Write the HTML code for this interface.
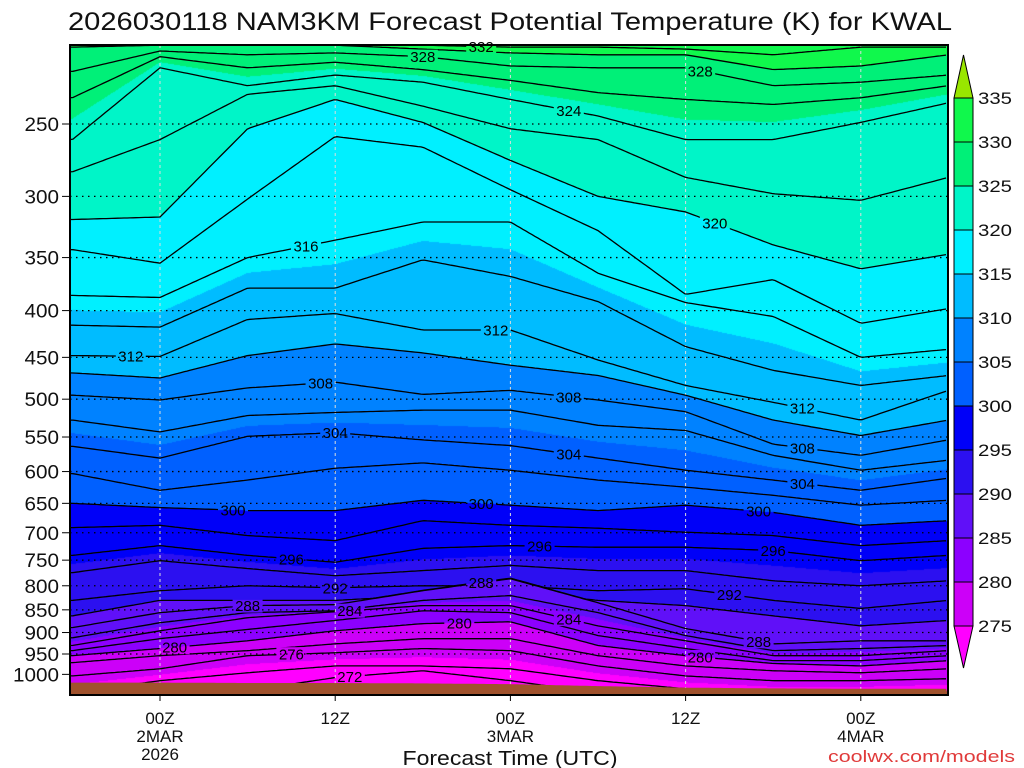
<!DOCTYPE html>
<html><head><meta charset="utf-8"><style>
html,body{margin:0;padding:0;background:#fff;}
#wrap{position:relative;width:1024px;height:768px;overflow:hidden;font-family:"Liberation Sans",sans-serif;}
canvas,svg{position:absolute;left:0;top:0;}
</style></head><body>
<div id="wrap">
<canvas id="fill" width="1024" height="768"></canvas>
<svg id="svg" width="1024" height="768" xmlns="http://www.w3.org/2000/svg">
<defs><clipPath id="plotclip"><rect x="70" y="45" width="878" height="650"/></clipPath>
<mask id="labelmask" maskUnits="userSpaceOnUse" x="0" y="0" width="1024" height="768"><rect x="0" y="0" width="1024" height="768" fill="#fff"/><g id="maskholes"></g></mask></defs>
<text x="510" y="30" text-anchor="middle" font-size="25" textLength="884" lengthAdjust="spacingAndGlyphs" fill="#111">2026030118 NAM3KM Forecast Potential Temperature (K) for KWAL</text>
<g id="grid"></g>
<g clip-path="url(#plotclip)"><g id="lines" mask="url(#labelmask)"></g></g>
<g id="ground"></g>
<g id="labels"></g>
<rect x="70" y="45" width="878" height="650" fill="none" stroke="#000" stroke-width="2"/>
<g id="yaxis"></g>
<g id="xaxis"></g>
<text x="510" y="765" text-anchor="middle" font-size="20" textLength="215" lengthAdjust="spacingAndGlyphs" fill="#111">Forecast Time (UTC)</text>
<text x="1015" y="762" text-anchor="end" font-size="17" textLength="187" lengthAdjust="spacingAndGlyphs" fill="#e03a3a">coolwx.com/models</text>
<g id="cbar"></g>
</svg>
</div>
<script>
const hours=[-6,0,6,12,18,24,30,36,42,48,54];
const levels=[272,274,276,278,280,282,284,286,288,290,292,294,296,298,300,302,304,306,308,310,312,314,316,318,320,322,324,326,328,330,332,334];
const theta272=[1083,1069,1042,1008,991,1016,1048,1069,1083,1083,1083];
const theta274=[1048,1016,996,979,979,986,1016,1037,1048,1048,1042];
const theta276=[1004,986,954,947,937,942,979,1004,1016,1016,1011];
const theta278=[971,954,942,926,914,914,954,979,991,996,986];
const theta280=[954,937,919,896,880,876,930,954,973,979,966];
const theta282=[942,914,893,873,852,856,907,937,966,966,954];
const theta284=[930,896,867,854,841,841,885,919,954,954,942];
const theta286=[912,878,856,852,830,820,856,907,942,937,930];
const theta288=[889,856,841,839,810,786,835,891,926,919,919];
const theta290=[863,830,830,830,820,810,830,841,863,885,873];
const theta292=[830,810,800,804,800,800,810,806,830,847,830];
const theta294=[774,751,766,780,770,760,770,770,790,800,790];
const theta296=[741,723,741,754,728,723,726,726,732,751,741];
const theta298=[691,687,705,714,679,687,692,699,705,723,714];
const theta300=[650,657,662,662,645,653,662,653,665,687,679];
const theta302=[603,629,613,595,587,598,613,624,637,653,645];
const theta304=[563,580,549,544,554,562,580,598,613,629,610];
const theta306=[527,543,521,517,514,514,534,541,576,598,583];
const theta308=[495,501,486,479,494,489,501,516,560,576,554];
const theta310=[468,474,448,435,445,459,471,495,527,548,527];
const theta312=[448,449,409,403,420,420,453,483,504,527,489];
const theta314=[415,417,378,378,352,367,391,438,465,483,471];
const theta316=[385,387,350,335,320,320,364,392,406,450,441];
const theta318=[343,355,302,258,265,295,327,384,370,413,398];
const theta320=[318,316,253,235,249,274,300,312,339,360,347];
const theta322=[282,260,232,227,239,253,260,286,298,303,286];
const theta324=[260,217,227,221,225,235,245,260,260,249,237];
const theta326=[234,211,217,214,218,224,231,235,238,234,227];
const theta328=[219,208,210,209,211,216,217,217,227,225,221];
const theta330=[206,205,205,205,207,209,210,210,218,216,210];
const theta332=[202,201,201,202,205,206,206,207,210,206,206];
const theta334=[197,197,198,199,200,202,205,205,202,200,200];
const surfacePressure=[1021,1021,1022,1022,1023,1025,1030,1034,1036,1037,1037];
const pressureTicks=[250,300,350,400,450,500,550,600,650,700,750,800,850,900,950,1000];
const timeTicks=[0,12,24,36,48];
const timeTickLabels=[["00Z","2MAR","2026"],["12Z"],["00Z","3MAR"],["12Z"],["00Z","4MAR"]];
const cbarTicks=[335,330,325,320,315,310,305,300,295,290,285,280,275];
const labelLevels=[332,328,328,324,320,316,312,312,312,308,308,308,304,304,304,300,300,300,296,296,296,292,292,288,288,288,284,284,280,280,280,276,272];
const labelHours=[22,18,37,28,38,10,-2,23,44,11,28,44,12,28,44,5,22,41,9,26,42,12,39,6,22,41,13,28,1,20.5,37,9,13];

const isentropes=[theta272,theta274,theta276,theta278,theta280,theta282,theta284,theta286,theta288,theta290,theta292,theta294,theta296,theta298,theta300,theta302,theta304,theta306,theta308,theta310,theta312,theta314,theta316,theta318,theta320,theta322,theta324,theta326,theta328,theta330,theta332,theta334];
const bandColors=["#ff00ff","#cc00f8","#8c00ff","#6010f8","#2c10f0","#0000f8","#0060ff","#0082ff","#00bcff","#00f0ff","#00f5c8","#00f078","#10f84c","#99e600"];
const PX0=70,PX1=948,PY0=45,PY1=695;
function xOf(t){return 160+t*(175.2/12);}
function tOf(x){return (x-160)/(175.2/12);}
function yOf(p){return 124+397*Math.log(p/250);}
function interpAt(arr,t){
  if(t<=hours[0])return arr[0];
  if(t>=hours[hours.length-1])return arr[arr.length-1];
  for(let i=0;i<hours.length-1;i++){
    if(t>=hours[i]&&t<=hours[i+1]){const f=(t-hours[i])/(hours[i+1]-hours[i]);
      return Math.exp(Math.log(arr[i])*(1-f)+Math.log(arr[i+1])*f);}
  }
}
function bandIndex(th){if(th<275)return 0;if(th>=335)return 13;return 1+Math.floor((th-275)/5);}
function hexRgb(h){return[parseInt(h.substr(1,2),16),parseInt(h.substr(3,2),16),parseInt(h.substr(5,2),16)];}
const rgbs=bandColors.map(hexRgb);
function levelYs(t){
  const ys=isentropes.map(a=>yOf(interpAt(a,t)));
  for(let i=1;i<ys.length;i++){if(ys[i]>ys[i-1]-0.3)ys[i]=ys[i-1]-0.3;}
  return ys;
}
(function(){
  const cv=document.getElementById('fill');const ctx=cv.getContext('2d');
  const img=ctx.createImageData(PX1-PX0,PY1-PY0);
  for(let cx=PX0;cx<PX1;cx++){
    const ys=levelYs(tOf(cx+0.5));const n=ys.length;
    for(let cy=PY0;cy<PY1;cy++){
      const y=cy+0.5;let th;
      if(y>=ys[0])th=levels[0]-(y-ys[0])/8;
      else if(y<=ys[n-1])th=levels[n-1]+(ys[n-1]-y)/8;
      else{let i=0;while(i<n-1&&!(y<=ys[i]&&y>=ys[i+1]))i++;
        th=levels[i]+(levels[i+1]-levels[i])*(ys[i]-y)/(ys[i]-ys[i+1]);}
      const c=rgbs[bandIndex(th)];
      const o=((cy-PY0)*(PX1-PX0)+(cx-PX0))*4;
      img.data[o]=c[0];img.data[o+1]=c[1];img.data[o+2]=c[2];img.data[o+3]=255;
    }
  }
  ctx.putImageData(img,PX0,PY0);
})();
const NS="http://www.w3.org/2000/svg";
function mk(tag,attrs,parent){const e=document.createElementNS(NS,tag);for(const k in attrs)e.setAttribute(k,attrs[k]);parent.appendChild(e);return e;}
const grid=document.getElementById('grid');
pressureTicks.forEach(p=>{
  if(p===1000)return;
  const l=mk('line',{x1:PX0,x2:PX1,y1:yOf(p),y2:yOf(p),stroke:'#000','stroke-width':1.3,'stroke-dasharray':'1.5 4.5'},grid);
  
  
});
timeTicks.forEach(t=>{
  const l=mk('line',{x1:xOf(t),x2:xOf(t),y1:PY0,y2:PY1,stroke:'#dddddd','stroke-width':1,'stroke-dasharray':'3 3'},grid);
  
  
});
const lg=document.getElementById('lines');
const colYs=[];
for(let cx=PX0;cx<=PX1;cx+=3){colYs.push([cx,levelYs(tOf(cx))]);}
levels.forEach((lev,i)=>{
  const pts=colYs.map(c=>c[0]+','+c[1][i].toFixed(1)).join(' ');
  const pl=mk('polyline',{points:pts,fill:'none',stroke:'#000','stroke-width':1.3},lg);
  
  
});
const gg=document.getElementById('ground');
let gp='';
for(let cx=PX0;cx<=PX1;cx+=3){gp+=cx+','+yOf(interpAt(surfacePressure,tOf(cx))).toFixed(1)+' ';}
gp+=PX1+','+PY1+' '+PX0+','+PY1;
const gpoly=mk('polygon',{points:gp,fill:'#a0522d'},gg);


const lbg=document.getElementById('labels');
const holes=document.getElementById('maskholes');
labelLevels.forEach((lev,j)=>{
  const t=labelHours[j];const i=levels.indexOf(lev);
  const y=levelYs(t)[i];const x=xOf(t);
  mk('rect',{x:x-15,y:y-7,width:30,height:14,fill:'#000'},holes);
  const tx=mk('text',{x:x,y:y+5.5,'text-anchor':'middle','font-size':15,fill:'#000'},lbg);
  tx.textContent=String(lev);
  
  
});
const ya=document.getElementById('yaxis');
pressureTicks.forEach(p=>{
  const y=yOf(p);
  const tk=mk('line',{x1:62,x2:70,y1:y,y2:y,stroke:'#000','stroke-width':1},ya);
  
  
  const s=String(p);
  const tx=mk('text',{x:59,y:y+7,'text-anchor':'end','font-size':19,fill:'#111',textLength:s.length*11.5,lengthAdjust:'spacingAndGlyphs'},ya);
  tx.textContent=s;
  
  
});
const xa=document.getElementById('xaxis');
timeTicks.forEach((t,j)=>{
  const x=xOf(t);
  const tk=mk('line',{x1:x,x2:x,y1:PY1,y2:PY1+6,stroke:'#000','stroke-width':1},xa);
  
  
  timeTickLabels[j].forEach((s,k)=>{
    const tx=mk('text',{x:x,y:724+k*18,'text-anchor':'middle','font-size':17,fill:'#111'},xa);
    tx.textContent=s;
    
    
  });
});
const cb=document.getElementById('cbar');
const CBX=954,CBW=19,CBTOP=98,CBH=44;
const tri1=mk('polygon',{points:(CBX)+','+CBTOP+' '+(CBX+CBW)+','+CBTOP+' '+(CBX+CBW/2)+',55',fill:bandColors[13],stroke:'#000','stroke-width':1},cb);


for(let b=0;b<12;b++){
  const r=mk('rect',{x:CBX,y:CBTOP+b*CBH,width:CBW,height:CBH,fill:bandColors[12-b],stroke:'#000','stroke-width':1},cb);
  
  
}
const yb=CBTOP+12*CBH;
const tri2=mk('polygon',{points:CBX+','+yb+' '+(CBX+CBW)+','+yb+' '+(CBX+CBW/2)+',668',fill:bandColors[0],stroke:'#000','stroke-width':1},cb);


cbarTicks.forEach((v,k)=>{
  const tx=mk('text',{x:978,y:CBTOP+k*CBH+6,'font-size':17,fill:'#111',textLength:34,lengthAdjust:'spacingAndGlyphs'},cb);
  tx.textContent=String(v);
  
  
});
</script>
</body></html>
